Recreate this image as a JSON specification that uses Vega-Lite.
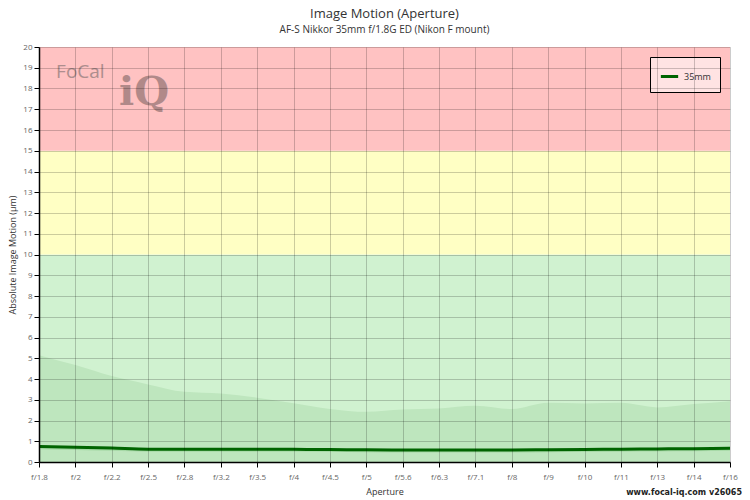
{
  "$schema": "https://vega.github.io/schema/vega-lite/v6.json",
  "autosize": "none",
  "width": 691,
  "height": 415,
  "padding": {"left": 39, "top": 47, "right": 20, "bottom": 38},
  "background": "white",
  "config": {
    "view": {"stroke": null},
    "font": "Open Sans"
  },
  "title": {
    "text": "Image Motion (Aperture)",
    "subtitle": "AF-S Nikkor 35mm f/1.8G ED (Nikon F mount)",
    "font": "Open Sans",
    "fontSize": 13,
    "fontWeight": "normal",
    "color": "#333333",
    "subtitleFont": "Open Sans",
    "subtitleFontSize": 10,
    "subtitleColor": "#333333",
    "subtitlePadding": 4,
    "offset": 8,
    "anchor": "middle"
  },
  "datasets": {
    "zones": [
      {"lo": 0, "hi": 10, "zone": "good"},
      {"lo": 10, "hi": 15, "zone": "warn"},
      {"lo": 15, "hi": 20, "zone": "bad"}
    ],
    "motion": [
      {"ap": "f/1.8", "up": 5.15, "mot": 0.75, "low": 0.62},
      {"ap": "f/2", "up": 4.67, "mot": 0.71, "low": 0.58},
      {"ap": "f/2.2", "up": 4.14, "mot": 0.67, "low": 0.54},
      {"ap": "f/2.5", "up": 3.74, "mot": 0.62, "low": 0.5},
      {"ap": "f/2.8", "up": 3.38, "mot": 0.62, "low": 0.5},
      {"ap": "f/3.2", "up": 3.3, "mot": 0.62, "low": 0.5},
      {"ap": "f/3.5", "up": 3.1, "mot": 0.61, "low": 0.49},
      {"ap": "f/4", "up": 2.83, "mot": 0.61, "low": 0.49},
      {"ap": "f/4.5", "up": 2.56, "mot": 0.6, "low": 0.48},
      {"ap": "f/5", "up": 2.42, "mot": 0.59, "low": 0.47},
      {"ap": "f/5.6", "up": 2.53, "mot": 0.58, "low": 0.46},
      {"ap": "f/6.3", "up": 2.58, "mot": 0.58, "low": 0.46},
      {"ap": "f/7.1", "up": 2.71, "mot": 0.58, "low": 0.46},
      {"ap": "f/8", "up": 2.55, "mot": 0.58, "low": 0.46},
      {"ap": "f/9", "up": 2.85, "mot": 0.59, "low": 0.47},
      {"ap": "f/10", "up": 2.82, "mot": 0.6, "low": 0.48},
      {"ap": "f/11", "up": 2.85, "mot": 0.62, "low": 0.5},
      {"ap": "f/13", "up": 2.63, "mot": 0.63, "low": 0.51},
      {"ap": "f/14", "up": 2.79, "mot": 0.64, "low": 0.52},
      {"ap": "f/16", "up": 2.93, "mot": 0.66, "low": 0.54}
    ]
  },
  "resolve": {"scale": {"color": "independent"}, "legend": {"color": "independent"}},
  "encoding": {
    "x": {
      "field": "ap",
      "type": "ordinal",
      "sort": ["f/1.8", "f/2", "f/2.2", "f/2.5", "f/2.8", "f/3.2", "f/3.5", "f/4", "f/4.5", "f/5", "f/5.6", "f/6.3", "f/7.1", "f/8", "f/9", "f/10", "f/11", "f/13", "f/14", "f/16"],
      "scale": {"type": "point", "padding": 0},
      "title": "Aperture",
      "axis": {
        "labelAngle": 0,
        "labelFontSize": 8,
        "labelColor": "#666666",
        "labelPadding": 6,
        "titleFontSize": 9,
        "titleFontWeight": "normal",
        "titleColor": "#333333",
        "titlePadding": 6,
        "domainColor": "black",
        "domainWidth": 1.5,
        "tickColor": "black",
        "tickSize": 5,
        "grid": true,
        "gridColor": "black",
        "gridOpacity": 0.2,
        "zindex": 1
      }
    }
  },
  "layer": [
    {
      "data": {"name": "zones"},
      "mark": {"type": "rect"},
      "encoding": {
        "x": null,
        "y": {
          "field": "lo",
          "type": "quantitative",
          "scale": {"domain": [0, 20], "nice": false},
          "title": "Absolute Image Motion (µm)",
          "axis": {
            "tickCount": 20,
            "labelFontSize": 8,
            "labelColor": "#666666",
            "titleFontSize": 9,
            "titleFontWeight": "normal",
            "titleColor": "#333333",
            "titlePadding": 5,
            "domainColor": "black",
            "domainWidth": 1.5,
            "tickColor": "black",
            "tickSize": 5,
            "grid": true,
            "gridColor": "black",
            "gridOpacity": 0.2,
            "zindex": 1
          }
        },
        "y2": {"field": "hi"},
        "color": {
          "field": "zone",
          "type": "nominal",
          "scale": {"domain": ["good", "warn", "bad"], "range": ["#d0f2d0", "#ffffc4", "#ffc2c2"]},
          "legend": null
        }
      }
    },
    {
      "data": {"name": "motion"},
      "mark": {"type": "area", "interpolate": "monotone", "color": "#bee6be"},
      "encoding": {
        "y": {"field": "up", "type": "quantitative"}
      }
    },
    {
      "data": {"name": "motion"},
      "mark": {"type": "area", "interpolate": "monotone", "color": "#a6d9a6"},
      "encoding": {
        "y": {"field": "low", "type": "quantitative"},
        "y2": {"field": "mot"}
      }
    },
    {
      "data": {"name": "motion"},
      "mark": {"type": "line", "interpolate": "monotone", "strokeWidth": 3},
      "encoding": {
        "y": {"field": "mot", "type": "quantitative"},
        "color": {
          "datum": "35mm",
          "type": "nominal",
          "scale": {"domain": ["35mm"], "range": ["#006400"]},
          "legend": {
            "title": null,
            "orient": "top-right",
            "offset": 10,
            "fillColor": "rgba(255,255,255,0.55)",
            "strokeColor": "black",
            "padding": 9,
            "symbolType": "stroke",
            "symbolStrokeWidth": 3,
            "symbolSize": 300,
            "labelFontSize": 9,
            "labelColor": "#333333",
            "labelFont": "Open Sans"
          }
        }
      }
    },
    {
      "data": {"values": [{"t": "FoCal"}]},
      "mark": {"type": "text", "font": "Open Sans", "fontSize": 19, "color": "#a08585", "opacity": 0.85, "align": "center", "dx": 5},
      "encoding": {
        "x": {"datum": "f/2"},
        "y": {"datum": 18.8},
        "text": {"field": "t"}
      }
    },
    {
      "data": {"values": [{"t": "iQ"}]},
      "mark": {"type": "text", "font": "DejaVu Serif", "fontSize": 40, "fontWeight": "bold", "color": "#9e7b7b", "opacity": 0.8, "align": "center", "dx": -4},
      "encoding": {
        "x": {"datum": "f/2.5"},
        "y": {"datum": 17.8},
        "text": {"field": "t"}
      }
    },
    {
      "data": {"values": [{"t": "www.focal-iq.com  v26065"}]},
      "mark": {"type": "text", "font": "DejaVu Sans", "fontSize": 8, "fontWeight": "bold", "color": "#222222", "align": "right", "dx": 12, "clip": false},
      "encoding": {
        "x": {"datum": "f/16"},
        "y": {"datum": -1.5},
        "text": {"field": "t"}
      }
    }
  ]
}
